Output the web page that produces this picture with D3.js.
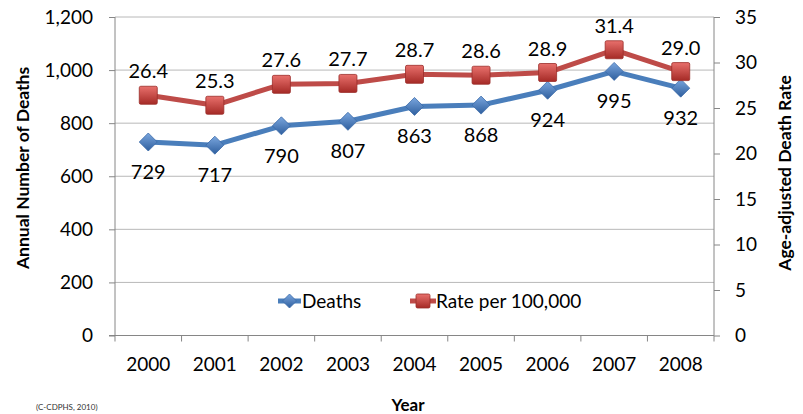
<!DOCTYPE html>
<html><head><meta charset="utf-8">
<script src="https://cdn.jsdelivr.net/npm/d3@7"></script>
<style>body{margin:0;background:#fff}svg{display:block}text{font-family:Lato,"Open Sans",sans-serif}</style>
</head><body><svg id="c" width="803" height="414"></svg>
<script>
const years = ["2000","2001","2002","2003","2004","2005","2006","2007","2008"];
const deaths = [729,717,790,807,863,868,924,995,932];
const rates = [26.4,25.3,27.6,27.7,28.7,28.6,28.9,31.4,29.0];
const leftTicks = [0,200,400,600,800,1000,1200];
const rightTicks = [0,5,10,15,20,25,30,35];

const svg = d3.select("#c");
const L=115, R=714, T=17, B=335.5;
const x = d3.scaleBand().domain(years).range([L,R]);
const yL = d3.scaleLinear().domain([0,1200]).range([B,T]);
const yR = d3.scaleLinear().domain([0,35]).range([B,T]);
const cx = d => x(d)+x.bandwidth()/2;

const defs = svg.append("defs");
const gb = defs.append("linearGradient").attr("id","gb").attr("x1",0).attr("y1",0).attr("x2",0).attr("y2",1);
gb.append("stop").attr("offset","0").attr("stop-color","#7aa6de");
gb.append("stop").attr("offset","1").attr("stop-color","#2f5f9e");
const gr = defs.append("linearGradient").attr("id","gr").attr("x1",0).attr("y1",0).attr("x2",0).attr("y2",1);
gr.append("stop").attr("offset","0").attr("stop-color","#e8706c");
gr.append("stop").attr("offset","1").attr("stop-color","#a52a26");

// gridlines
svg.append("g").selectAll("line").data(leftTicks.slice(1)).join("line")
  .attr("x1",L).attr("x2",R).attr("y1",d=>yL(d)).attr("y2",d=>yL(d))
  .attr("stroke","#b8b8b8").attr("stroke-width",1);

// left axis
const gL = svg.append("g").attr("transform",`translate(${L},0)`)
  .call(d3.axisLeft(yL).tickValues(leftTicks).tickSize(6).tickPadding(16).tickFormat(d3.format(",")));
// right axis
const gR = svg.append("g").attr("transform",`translate(${R},0)`)
  .call(d3.axisRight(yR).tickValues(rightTicks).tickSize(6).tickPadding(15));
// bottom axis
const gX = svg.append("g").attr("transform",`translate(0,${B})`)
  .call(d3.axisBottom(x).tickSize(0).tickPadding(22));
gX.selectAll(".tick").append("line").attr("x1",-x.bandwidth()/2).attr("x2",-x.bandwidth()/2).attr("y2",6).attr("stroke","#868686");
gX.append("line").attr("x1",R).attr("x2",R).attr("y2",6).attr("stroke","#868686");
[gL,gR,gX].forEach(g=>{
  g.select(".domain").attr("stroke","#868686");
  g.selectAll(".tick line").attr("stroke","#868686");
  g.selectAll("text").attr("font-size",19).attr("fill","#000").style("font-family","Lato,'Open Sans',sans-serif");
});
gL.select(".domain").attr("d",`M0,${B}V${T}`);
gR.select(".domain").attr("d",`M0,${B}V${T}`);
gX.select(".domain").attr("d",`M${L-6},0H${R}`);

// lines
const lineD = d3.line().x((d,i)=>cx(years[i])).y(d=>yL(d));
const lineR = d3.line().x((d,i)=>cx(years[i])).y(d=>yR(d));
svg.append("path").attr("d",lineD(deaths)).attr("fill","none").attr("stroke","#4a7ebb").attr("stroke-width",5).attr("stroke-linejoin","round");
svg.append("path").attr("d",lineR(rates)).attr("fill","none").attr("stroke","#be4b48").attr("stroke-width",5).attr("stroke-linejoin","round");

// markers
const diamond = (g,px,py,s)=>g.append("path").attr("d",`M${px},${py-s}L${px+s},${py}L${px},${py+s}L${px-s},${py}Z`)
  .attr("fill","url(#gb)").attr("stroke","#3a6aa8").attr("stroke-width",0.8);
const square = (g,px,py,s)=>g.append("rect").attr("x",px-s).attr("y",py-s).attr("width",2*s).attr("height",2*s)
  .attr("fill","url(#gr)").attr("stroke","#9a2d2a").attr("stroke-width",0.8).attr("rx",1.5);
const mk = svg.append("g");
deaths.forEach((d,i)=>diamond(mk,cx(years[i]),yL(d),9));
rates.forEach((d,i)=>square(mk,cx(years[i]),yR(d),9));

// data labels
svg.append("g").selectAll("text").data(deaths).join("text")
  .attr("x",(d,i)=>cx(years[i])).attr("y",d=>yL(d)+37)
  .attr("text-anchor","middle").attr("font-size",20).text(d=>d);
svg.append("g").selectAll("text").data(rates).join("text")
  .attr("x",(d,i)=>cx(years[i])).attr("y",d=>yR(d)-17)
  .attr("text-anchor","middle").attr("font-size",20).text(d=>d.toFixed(1));

// legend
const lg = svg.append("g");
lg.append("line").attr("x1",278).attr("x2",301).attr("y1",301).attr("y2",301).attr("stroke","#4a7ebb").attr("stroke-width",5);
diamond(lg,289.5,301,7);
lg.append("text").attr("x",302).attr("y",308).attr("font-size",19).text("Deaths");
lg.append("line").attr("x1",410).attr("x2",436).attr("y1",301).attr("y2",301).attr("stroke","#be4b48").attr("stroke-width",5);
square(lg,423,301,7);
lg.append("text").attr("x",436).attr("y",308).attr("font-size",19).text("Rate per 100,000");

// titles
svg.append("text").attr("transform","translate(29,168) rotate(-90)").attr("text-anchor","middle")
  .attr("font-size",17.5).attr("font-weight","bold").text("Annual Number of Deaths");
svg.append("text").attr("transform","translate(791,173) rotate(-90)").attr("text-anchor","middle")
  .attr("font-size",17.5).attr("font-weight","bold").text("Age-adjusted Death Rate");
svg.append("text").attr("x",408).attr("y",411).attr("text-anchor","middle")
  .attr("font-size",17).attr("font-weight","bold").text("Year");
svg.append("text").attr("x",36).attr("y",410).attr("font-size",8).attr("fill","#333").text("(C-CDPHS, 2010)");
</script></body></html>
